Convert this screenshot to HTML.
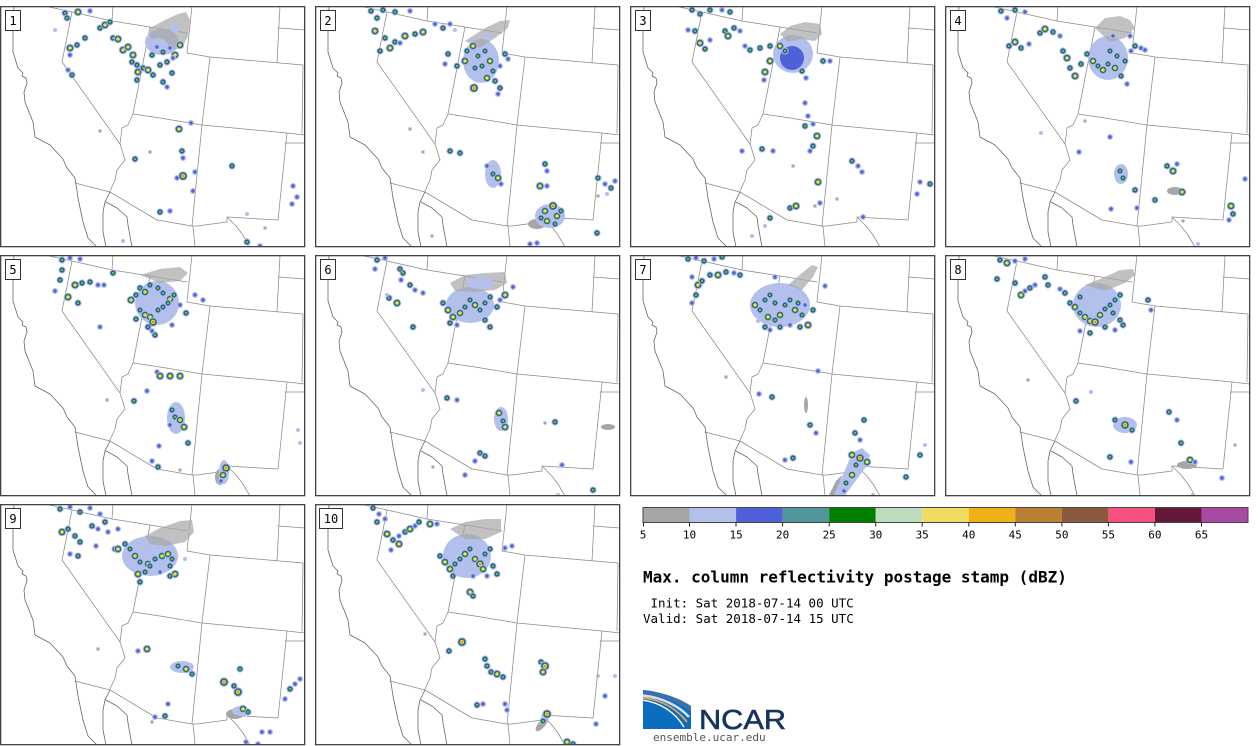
<!DOCTYPE html>
<html>
<head>
<meta charset="utf-8">
<style>
html,body{margin:0;padding:0;background:#fff;}
svg{display:block;}
.gp{fill:#a6a6a6;fill-opacity:0.7;}
</style>
</head>
<body>
<svg xmlns="http://www.w3.org/2000/svg" xmlns:xlink="http://www.w3.org/1999/xlink" width="1260" height="746" viewBox="0 0 1260 746">
<defs>
  <g id="map" fill="none" stroke-linejoin="round" stroke-linecap="round">
    <path stroke="#8a8a8a" stroke-width="0.75" d="M45,0 L72,6 L112,15 L150,21 L187,27 M113,0 L112,15 M72,6 L62,56 L120,138 M150,21 L133,108 L128,119 L122,122 L120,138 L122,144 L125,154 L117,164 L115,174 L110,185 M75,177 L110,186 L157,214 L192,220 M133,108 L160,112 L202,119 L287,127 L305,129 M192,0 L187,47 L210,51 L303,59 M210,51 L202,119 L192,220 M303,59 L302,127 M287,127 L278,214 M285,137 L305,137 M192,220 L197,220 L227,216 L227,211 L278,214 M228,212 L236,220 L243,229 L250,241 M193,220 L195,241 M280,0 L277,57 M278,22 L305,24"/>
    <path stroke="#666" stroke-width="0.8" d="M14,0 L13,24 L13,46 L18,62 L23,67 L22,70 L26,72 L27,77 L24,86 L25,96 L33,116 L35,131 L50,139 L63,153 L67,162 L75,172 L78,192 L83,216 L88,232 L97,241 M110,186 L107,192 L105,196 L103,206 L103,226 L106,241 M106,196 L117,202 L127,211 L128,219 L132,241"/>
  </g>
  <g id="a"><circle r="2" fill="#b4c0ec"/></g>
  <g id="b"><circle r="3" fill="#b4c0ec"/><circle r="1.7" fill="#5060d8"/></g>
  <g id="c"><circle r="3.6" fill="#b4c0ec"/><circle r="2.7" fill="#5060d8"/><circle r="1.8" fill="#008000"/><circle r="0.9" fill="#c0dcc0"/></g>
  <g id="d"><circle r="4.3" fill="#b4c0ec"/><circle r="3.4" fill="#5060d8"/><circle r="2.6" fill="#008000"/><circle r="1.8" fill="#f0dc60"/></g>
  <g id="e"><circle r="4.8" fill="#b4c0ec"/><circle r="3.9" fill="#5060d8"/><circle r="3.0" fill="#008000"/><circle r="2.2" fill="#f0dc60"/><circle r="1.4" fill="#f0b018"/><circle r="0.8" fill="#f05078"/></g>
  <g id="g"><rect x="-1.5" y="-1.5" width="3" height="3" fill="#a6a6a6"/></g>
</defs>

<rect width="1260" height="746" fill="#fff"/>

<!-- Panel 1 -->
<svg x="0" y="6" width="305" height="241">
  <use href="#map"/>
  <ellipse cx="162" cy="36" rx="17" ry="13" fill="#b4c0ec"/>
  <path class="gp" d="M150,22 L165,14 L178,8 L186,6 L190,14 L188,30 L182,42 L170,44 L160,38 L150,32 Z"/>
  <ellipse cx="158" cy="40" rx="10" ry="8" fill="#b4c0ec"/>
  <ellipse cx="175" cy="22" rx="5" ry="4" fill="#b4c0ec"/>
  <use href="#c" x="65" y="7"/><use href="#d" x="78" y="6"/><use href="#c" x="67" y="12"/><use href="#b" x="90" y="5"/>
  <use href="#a" x="55" y="24"/><use href="#c" x="100" y="22"/><use href="#d" x="105" y="19"/><use href="#c" x="110" y="16"/>
  <use href="#d" x="70" y="42"/><use href="#c" x="77" y="39"/><use href="#c" x="85" y="32"/><use href="#b" x="70" y="49"/>
  <use href="#c" x="72" y="69"/><use href="#b" x="68" y="64"/>
  <use href="#c" x="113" y="32"/><use href="#d" x="118" y="33"/><use href="#d" x="123" y="44"/><use href="#d" x="128" y="41"/>
  <use href="#d" x="133" y="49"/><use href="#c" x="132" y="56"/><use href="#c" x="137" y="59"/><use href="#d" x="138" y="66"/>
  <use href="#c" x="137" y="74"/><use href="#c" x="143" y="62"/><use href="#d" x="148" y="64"/><use href="#c" x="153" y="69"/>
  <use href="#b" x="157" y="41"/><use href="#c" x="163" y="46"/><use href="#b" x="170" y="42"/><use href="#d" x="175" y="49"/>
  <use href="#c" x="167" y="56"/><use href="#c" x="160" y="59"/><use href="#c" x="172" y="67"/><use href="#c" x="163" y="76"/>
  <use href="#b" x="167" y="81"/><use href="#c" x="152" y="49"/><use href="#d" x="180" y="39"/><use href="#b" x="173" y="52"/>
  <use href="#d" x="179" y="123"/><use href="#b" x="191" y="117"/><use href="#c" x="182" y="145"/><use href="#b" x="183" y="152"/>
  <use href="#b" x="177" y="172"/><use href="#e" x="183" y="170"/><use href="#b" x="195" y="166"/><use href="#c" x="135" y="153"/>
  <use href="#c" x="232" y="160"/><use href="#b" x="293" y="180"/><use href="#b" x="297" y="191"/><use href="#b" x="292" y="198"/>
  <use href="#c" x="160" y="206"/><use href="#b" x="170" y="205"/><use href="#c" x="247" y="236"/><use href="#b" x="260" y="240"/>
  <use href="#a" x="123" y="235"/><use href="#b" x="193" y="185"/><use href="#a" x="247" y="208"/><use href="#g" x="100" y="125"/>
  <use href="#g" x="150" y="146"/><use href="#g" x="265" y="222"/>
  <rect x="5.5" y="4.5" width="15" height="20" fill="#fff" stroke="#333" stroke-width="1"/>
  <text x="13" y="19" font-family="DejaVu Sans Mono, monospace" font-size="12" text-anchor="middle" fill="#000">1</text>
</svg>

<!-- Panel 2 -->
<svg x="315" y="6" width="305" height="241">
  <use href="#map"/>
  <ellipse cx="166" cy="55" rx="18" ry="22" fill="#b4c0ec"/>
  <path class="gp" d="M150,35 L170,22 L185,15 L195,14 L193,22 L180,32 L165,42 Z"/>
  <ellipse cx="172" cy="30" rx="5" ry="3" fill="#b4c0ec"/>
  <use href="#c" x="56" y="5"/><use href="#c" x="62" y="12"/><use href="#c" x="68" y="4"/><use href="#c" x="80" y="6"/><use href="#b" x="95" y="5"/>
  <use href="#d" x="60" y="25"/><use href="#c" x="70" y="32"/><use href="#c" x="80" y="36"/><use href="#d" x="90" y="30"/>
  <use href="#c" x="100" y="28"/><use href="#d" x="108" y="26"/><use href="#c" x="65" y="45"/><use href="#d" x="75" y="42"/>
  <use href="#b" x="85" y="37"/><use href="#b" x="120" y="18"/><use href="#c" x="128" y="22"/><use href="#b" x="135" y="18"/><use href="#a" x="140" y="24"/>
  <use href="#c" x="152" y="45"/><use href="#d" x="158" y="40"/><use href="#c" x="163" y="50"/><use href="#c" x="170" y="45"/>
  <use href="#d" x="175" y="55"/><use href="#c" x="167" y="60"/><use href="#c" x="178" y="65"/><use href="#c" x="160" y="62"/>
  <use href="#d" x="150" y="55"/><use href="#c" x="142" y="60"/><use href="#c" x="133" y="48"/><use href="#b" x="130" y="58"/>
  <use href="#d" x="172" y="72"/><use href="#c" x="180" y="75"/><use href="#b" x="185" y="60"/><use href="#c" x="190" y="48"/>
  <use href="#b" x="193" y="53"/><use href="#e" x="159" y="82"/><use href="#c" x="185" y="82"/><use href="#b" x="183" y="88"/>
  <use href="#c" x="135" y="145"/><use href="#c" x="145" y="147"/>
  <ellipse cx="178" cy="168" rx="8" ry="14" fill="#b4c0ec"/>
  <use href="#b" x="172" y="160"/><use href="#c" x="178" y="168"/><use href="#d" x="183" y="172"/><use href="#b" x="186" y="178"/>
  <use href="#c" x="230" y="158"/><use href="#b" x="232" y="165"/><use href="#d" x="225" y="180"/><use href="#b" x="232" y="180"/>
  <ellipse cx="222" cy="218" rx="9" ry="5" fill="#a6a6a6"/>
  <ellipse cx="235" cy="210" rx="15" ry="12" fill="#b4c0ec"/>
  <use href="#d" x="230" y="205"/><use href="#e" x="238" y="200"/><use href="#d" x="242" y="210"/><use href="#d" x="232" y="215"/>
  <use href="#c" x="246" y="205"/><use href="#c" x="226" y="212"/><use href="#c" x="240" y="218"/>
  <use href="#b" x="290" y="178"/><use href="#c" x="296" y="182"/><use href="#b" x="300" y="175"/><use href="#a" x="292" y="188"/><use href="#c" x="283" y="172"/>
  <use href="#b" x="215" y="238"/><use href="#b" x="222" y="237"/><use href="#g" x="117" y="230"/><use href="#c" x="282" y="227"/>
  <use href="#g" x="95" y="123"/><use href="#g" x="108" y="146"/><use href="#g" x="283" y="190"/>
  <rect x="5.5" y="4.5" width="15" height="20" fill="#fff" stroke="#333" stroke-width="1"/>
  <text x="13" y="19" font-family="DejaVu Sans Mono, monospace" font-size="12" text-anchor="middle" fill="#000">2</text>
</svg>

<!-- Panel 3 -->
<svg x="630" y="6" width="305" height="241">
  <use href="#map"/>
  <ellipse cx="163" cy="48" rx="20" ry="19" fill="#b4c0ec"/>
  <path class="gp" d="M150,28 L160,20 L175,16 L190,18 L192,28 L185,35 L170,33 L158,36 Z"/>
  <ellipse cx="162" cy="52" rx="12" ry="12" fill="#5060d8"/>
  <use href="#c" x="62" y="4"/><use href="#c" x="70" y="8"/><use href="#c" x="80" y="4"/><use href="#b" x="92" y="4"/><use href="#c" x="100" y="6"/>
  <use href="#b" x="58" y="24"/><use href="#c" x="65" y="25"/><use href="#d" x="70" y="37"/><use href="#c" x="75" y="43"/><use href="#b" x="80" y="34"/>
  <use href="#c" x="95" y="25"/><use href="#d" x="98" y="30"/><use href="#c" x="104" y="22"/><use href="#b" x="110" y="25"/>
  <use href="#b" x="115" y="40"/><use href="#c" x="120" y="44"/><use href="#c" x="130" y="42"/><use href="#c" x="140" y="40"/>
  <use href="#d" x="140" y="55"/><use href="#d" x="135" y="66"/><use href="#b" x="134" y="74"/><use href="#d" x="150" y="40"/>
  <use href="#c" x="155" y="45"/><use href="#c" x="172" y="65"/><use href="#b" x="176" y="72"/><use href="#c" x="193" y="55"/><use href="#b" x="200" y="55"/>
  <use href="#b" x="175" y="97"/><use href="#b" x="178" y="110"/><use href="#c" x="175" y="120"/><use href="#b" x="183" y="118"/>
  <use href="#d" x="187" y="130"/><use href="#c" x="183" y="140"/><use href="#b" x="180" y="145"/><use href="#b" x="112" y="145"/>
  <use href="#c" x="132" y="143"/><use href="#b" x="143" y="145"/><use href="#c" x="222" y="155"/><use href="#b" x="228" y="160"/>
  <use href="#b" x="232" y="166"/><use href="#d" x="188" y="176"/><use href="#c" x="160" y="202"/><use href="#d" x="166" y="200"/>
  <use href="#c" x="140" y="212"/><use href="#a" x="135" y="220"/><use href="#a" x="122" y="230"/><use href="#b" x="190" y="197"/>
  <use href="#b" x="233" y="211"/><use href="#b" x="290" y="176"/><use href="#c" x="300" y="178"/><use href="#b" x="287" y="188"/>
  <use href="#g" x="163" y="160"/><use href="#g" x="207" y="193"/><use href="#g" x="185" y="200"/>
  <rect x="5.5" y="4.5" width="15" height="20" fill="#fff" stroke="#333" stroke-width="1"/>
  <text x="13" y="19" font-family="DejaVu Sans Mono, monospace" font-size="12" text-anchor="middle" fill="#000">3</text>
</svg>

<!-- Panel 4 -->
<svg x="945" y="6" width="305" height="241">
  <use href="#map"/>
  <ellipse cx="163" cy="52" rx="20" ry="22" fill="#b4c0ec"/>
  <path class="gp" d="M150,22 L160,12 L175,10 L185,14 L190,22 L180,32 L165,36 Z"/>
  <use href="#c" x="56" y="5"/><use href="#b" x="62" y="12"/><use href="#c" x="70" y="4"/><use href="#b" x="80" y="6"/>
  <use href="#c" x="64" y="40"/><use href="#d" x="70" y="36"/><use href="#c" x="76" y="42"/><use href="#b" x="84" y="38"/>
  <use href="#c" x="95" y="27"/><use href="#d" x="100" y="23"/><use href="#c" x="108" y="26"/><use href="#b" x="115" y="30"/>
  <use href="#c" x="118" y="45"/><use href="#d" x="122" y="52"/><use href="#c" x="125" y="62"/><use href="#d" x="130" y="70"/>
  <use href="#c" x="136" y="58"/><use href="#c" x="142" y="48"/><use href="#d" x="148" y="55"/><use href="#c" x="153" y="60"/>
  <use href="#d" x="158" y="64"/><use href="#c" x="163" y="58"/><use href="#d" x="170" y="62"/><use href="#c" x="176" y="70"/>
  <use href="#c" x="172" y="50"/><use href="#c" x="165" y="45"/><use href="#c" x="180" y="55"/><use href="#b" x="186" y="45"/>
  <use href="#c" x="190" y="40"/><use href="#b" x="196" y="42"/><use href="#b" x="200" y="44"/><use href="#b" x="185" y="30"/>
  <use href="#b" x="168" y="30"/><use href="#b" x="182" y="78"/>
  <ellipse cx="176" cy="168" rx="7" ry="10" fill="#b4c0ec"/>
  <use href="#c" x="175" y="165"/><use href="#c" x="178" y="172"/>
  <use href="#c" x="222" y="160"/><use href="#d" x="228" y="165"/><use href="#b" x="232" y="158"/>
  <ellipse cx="230" cy="185" rx="8" ry="4" fill="#a6a6a6"/>
  <use href="#d" x="237" y="186"/><use href="#c" x="190" y="184"/><use href="#b" x="165" y="131"/><use href="#b" x="134" y="146"/>
  <use href="#a" x="96" y="127"/><use href="#d" x="286" y="200"/><use href="#c" x="288" y="208"/><use href="#b" x="284" y="214"/>
  <use href="#b" x="300" y="173"/><use href="#b" x="166" y="203"/><use href="#b" x="192" y="202"/><use href="#c" x="210" y="194"/>
  <use href="#a" x="253" y="238"/><use href="#g" x="140" y="115"/><use href="#g" x="238" y="215"/>
  <rect x="5.5" y="4.5" width="15" height="20" fill="#fff" stroke="#333" stroke-width="1"/>
  <text x="13" y="19" font-family="DejaVu Sans Mono, monospace" font-size="12" text-anchor="middle" fill="#000">4</text>
</svg>

<!-- Panel 5 -->
<svg x="0" y="255" width="305" height="241">
  <use href="#map"/>
  <ellipse cx="157" cy="48" rx="22" ry="22" fill="#b4c0ec"/>
  <path class="gp" d="M140,20 L160,14 L180,12 L188,18 L180,26 L160,28 Z"/>
  <use href="#c" x="62" y="5"/><use href="#b" x="70" y="3"/><use href="#b" x="80" y="4"/><use href="#c" x="62" y="15"/>
  <use href="#c" x="60" y="25"/><use href="#b" x="55" y="36"/><use href="#d" x="75" y="30"/><use href="#c" x="82" y="28"/>
  <use href="#c" x="90" y="27"/><use href="#b" x="98" y="30"/><use href="#b" x="104" y="30"/><use href="#d" x="68" y="42"/>
  <use href="#c" x="78" y="48"/><use href="#c" x="113" y="18"/><use href="#b" x="100" y="72"/>
  <use href="#d" x="131" y="45"/><use href="#c" x="136" y="40"/><use href="#c" x="140" y="33"/><use href="#d" x="145" y="37"/>
  <use href="#c" x="150" y="30"/><use href="#c" x="158" y="33"/><use href="#c" x="163" y="38"/><use href="#d" x="170" y="44"/>
  <use href="#c" x="174" y="40"/><use href="#c" x="140" y="55"/><use href="#d" x="145" y="60"/><use href="#d" x="150" y="62"/>
  <use href="#e" x="153" y="67"/><use href="#c" x="158" y="55"/><use href="#c" x="163" y="52"/><use href="#c" x="168" y="48"/>
  <use href="#c" x="136" y="64"/><use href="#c" x="148" y="72"/><use href="#c" x="155" y="80"/><use href="#b" x="152" y="76"/>
  <use href="#b" x="172" y="70"/><use href="#c" x="186" y="58"/><use href="#b" x="180" y="50"/><use href="#b" x="195" y="40"/><use href="#b" x="203" y="45"/>
  <use href="#b" x="157" y="117"/><use href="#d" x="160" y="121"/><use href="#d" x="170" y="121"/><use href="#d" x="180" y="121"/>
  <use href="#c" x="134" y="146"/><use href="#b" x="147" y="136"/>
  <ellipse cx="176" cy="163" rx="9" ry="16" fill="#b4c0ec"/>
  <use href="#c" x="172" y="155"/><use href="#c" x="175" y="162"/><use href="#d" x="180" y="165"/><use href="#d" x="184" y="172"/><use href="#b" x="170" y="170"/>
  <use href="#c" x="188" y="188"/><use href="#b" x="159" y="191"/><use href="#b" x="152" y="206"/><use href="#c" x="158" y="212"/>
  <ellipse cx="220" cy="222" rx="5" ry="8" fill="#a6a6a6"/>
  <ellipse cx="224" cy="217" rx="5" ry="12" fill="#b4c0ec"/>
  <use href="#e" x="226" y="213"/><use href="#d" x="223" y="220"/><use href="#b" x="221" y="226"/>
  <use href="#a" x="300" y="188"/><use href="#a" x="298" y="175"/><use href="#g" x="107" y="145"/><use href="#g" x="180" y="215"/>
  <rect x="5.5" y="4.5" width="15" height="20" fill="#fff" stroke="#333" stroke-width="1"/>
  <text x="13" y="19" font-family="DejaVu Sans Mono, monospace" font-size="12" text-anchor="middle" fill="#000">5</text>
</svg>

<!-- Panel 6 -->
<svg x="315" y="255" width="305" height="241">
  <use href="#map"/>
  <ellipse cx="155" cy="50" rx="24" ry="18" fill="#b4c0ec"/>
  <path class="gp" d="M135,28 L150,20 L170,18 L190,17 L192,28 L180,35 L160,37 L140,36 Z"/>
  <ellipse cx="165" cy="28" rx="14" ry="6" fill="#b4c0ec"/>
  <use href="#c" x="62" y="5"/><use href="#b" x="70" y="3"/><use href="#b" x="60" y="14"/><use href="#c" x="88" y="18"/>
  <use href="#b" x="86" y="25"/><use href="#c" x="95" y="30"/><use href="#b" x="100" y="35"/><use href="#b" x="108" y="38"/>
  <use href="#c" x="85" y="14"/><use href="#c" x="74" y="43"/><use href="#d" x="82" y="48"/><use href="#a" x="72" y="40"/>
  <use href="#c" x="128" y="48"/><use href="#d" x="133" y="55"/><use href="#d" x="138" y="62"/><use href="#d" x="145" y="58"/>
  <use href="#c" x="150" y="52"/><use href="#c" x="155" y="45"/><use href="#d" x="160" y="50"/><use href="#c" x="165" y="55"/>
  <use href="#c" x="170" y="48"/><use href="#c" x="175" y="42"/><use href="#c" x="182" y="52"/><use href="#b" x="185" y="45"/>
  <use href="#d" x="190" y="40"/><use href="#b" x="198" y="32"/><use href="#c" x="135" y="68"/><use href="#b" x="142" y="70"/>
  <use href="#c" x="170" y="65"/><use href="#c" x="175" y="72"/><use href="#c" x="98" y="72"/>
  <ellipse cx="186" cy="164" rx="7" ry="12" fill="#b4c0ec"/>
  <use href="#d" x="184" y="158"/><use href="#c" x="188" y="166"/><use href="#d" x="190" y="172"/>
  <use href="#c" x="132" y="143"/><use href="#b" x="142" y="145"/><use href="#c" x="165" y="198"/><use href="#b" x="160" y="206"/>
  <use href="#c" x="170" y="201"/><use href="#c" x="240" y="167"/><use href="#b" x="247" y="210"/>
  <ellipse cx="293" cy="172" rx="7" ry="3" fill="#a6a6a6"/>
  <use href="#b" x="150" y="220"/><use href="#c" x="278" y="235"/><use href="#a" x="243" y="240"/><use href="#a" x="108" y="135"/>
  <use href="#g" x="230" y="168"/><use href="#g" x="118" y="212"/>
  <rect x="5.5" y="4.5" width="15" height="20" fill="#fff" stroke="#333" stroke-width="1"/>
  <text x="13" y="19" font-family="DejaVu Sans Mono, monospace" font-size="12" text-anchor="middle" fill="#000">6</text>
</svg>

<!-- Panel 7 -->
<svg x="630" y="255" width="305" height="241">
  <use href="#map"/>
  <ellipse cx="150" cy="50" rx="30" ry="22" fill="#b4c0ec"/>
  <path class="gp" d="M158,30 L172,18 L182,10 L188,12 L183,22 L172,35 Z"/>
  <use href="#c" x="58" y="4"/><use href="#b" x="66" y="3"/><use href="#c" x="74" y="6"/><use href="#b" x="84" y="4"/><use href="#c" x="92" y="2"/>
  <use href="#b" x="62" y="22"/><use href="#d" x="68" y="30"/><use href="#c" x="72" y="26"/><use href="#c" x="66" y="40"/><use href="#b" x="62" y="48"/>
  <use href="#c" x="80" y="20"/><use href="#d" x="88" y="20"/><use href="#c" x="96" y="17"/><use href="#b" x="104" y="18"/>
  <use href="#c" x="110" y="20"/><use href="#b" x="145" y="22"/><use href="#b" x="195" y="31"/>
  <use href="#d" x="125" y="50"/><use href="#c" x="130" y="55"/><use href="#c" x="135" y="45"/><use href="#c" x="140" y="40"/>
  <use href="#c" x="145" y="48"/><use href="#d" x="138" y="62"/><use href="#c" x="145" y="65"/><use href="#d" x="150" y="60"/>
  <use href="#c" x="155" y="50"/><use href="#c" x="160" y="45"/><use href="#d" x="165" y="55"/><use href="#c" x="168" y="48"/>
  <use href="#c" x="172" y="60"/><use href="#b" x="175" y="50"/><use href="#c" x="183" y="55"/><use href="#d" x="178" y="70"/>
  <use href="#c" x="170" y="72"/><use href="#b" x="160" y="70"/><use href="#c" x="150" y="72"/><use href="#c" x="135" y="72"/>
  <use href="#b" x="140" y="75"/><use href="#a" x="128" y="66"/>
  <use href="#c" x="142" y="142"/><use href="#b" x="129" y="139"/>
  <ellipse cx="176" cy="150" rx="2" ry="8" fill="#a6a6a6"/>
  <use href="#c" x="180" y="170"/><use href="#b" x="186" y="178"/><use href="#b" x="155" y="205"/><use href="#c" x="163" y="203"/>
  <path d="M198,242 L206,226 L212,220 L207,236 L203,242 Z" fill="#a6a6a6"/>
  <path d="M203,242 L212,222 L222,198 L232,193 L240,200 L236,212 L224,228 L214,242 Z" fill="#b4c0ec"/>
  <use href="#d" x="222" y="200"/><use href="#e" x="230" y="203"/><use href="#d" x="237" y="207"/><use href="#c" x="226" y="210"/>
  <use href="#d" x="222" y="220"/><use href="#c" x="216" y="228"/><use href="#b" x="214" y="236"/><use href="#c" x="225" y="178"/>
  <use href="#c" x="234" y="165"/><use href="#b" x="230" y="185"/><use href="#c" x="276" y="222"/><use href="#c" x="290" y="200"/>
  <use href="#a" x="295" y="190"/><use href="#b" x="188" y="116"/><use href="#g" x="96" y="122"/><use href="#g" x="243" y="240"/>
  <rect x="5.5" y="4.5" width="15" height="20" fill="#fff" stroke="#333" stroke-width="1"/>
  <text x="13" y="19" font-family="DejaVu Sans Mono, monospace" font-size="12" text-anchor="middle" fill="#000">7</text>
</svg>

<!-- Panel 8 -->
<svg x="945" y="255" width="305" height="241">
  <use href="#map"/>
  <ellipse cx="152" cy="50" rx="24" ry="22" fill="#b4c0ec"/>
  <path class="gp" d="M140,30 L160,22 L175,15 L188,14 L190,20 L180,28 L160,36 Z"/>
  <use href="#c" x="55" y="5"/><use href="#d" x="62" y="8"/><use href="#b" x="70" y="6"/><use href="#b" x="80" y="4"/>
  <use href="#c" x="52" y="24"/><use href="#c" x="70" y="28"/><use href="#d" x="76" y="40"/><use href="#b" x="80" y="36"/>
  <use href="#c" x="85" y="33"/><use href="#b" x="90" y="30"/><use href="#c" x="100" y="22"/><use href="#c" x="103" y="30"/>
  <use href="#b" x="115" y="34"/><use href="#c" x="120" y="38"/>
  <use href="#c" x="125" y="48"/><use href="#d" x="130" y="52"/><use href="#c" x="135" y="58"/><use href="#d" x="140" y="62"/>
  <use href="#d" x="145" y="66"/><use href="#e" x="150" y="67"/><use href="#d" x="155" y="60"/><use href="#c" x="160" y="54"/>
  <use href="#c" x="165" y="50"/><use href="#c" x="170" y="45"/><use href="#c" x="175" y="40"/><use href="#c" x="168" y="58"/>
  <use href="#c" x="175" y="65"/><use href="#c" x="160" y="72"/><use href="#c" x="145" y="78"/><use href="#b" x="135" y="76"/>
  <use href="#b" x="170" y="75"/><use href="#c" x="178" y="70"/><use href="#c" x="203" y="45"/><use href="#b" x="206" y="55"/><use href="#c" x="135" y="42"/>
  <ellipse cx="180" cy="170" rx="12" ry="8" fill="#b4c0ec"/>
  <use href="#c" x="170" y="165"/><use href="#e" x="180" y="170"/><use href="#c" x="187" y="175"/>
  <use href="#c" x="224" y="157"/><use href="#b" x="232" y="165"/><use href="#c" x="236" y="188"/>
  <ellipse cx="242" cy="210" rx="10" ry="4" fill="#a6a6a6"/>
  <use href="#d" x="245" y="205"/><use href="#b" x="250" y="207"/>
  <use href="#c" x="165" y="202"/><use href="#b" x="186" y="207"/><use href="#c" x="131" y="146"/><use href="#a" x="146" y="137"/>
  <use href="#a" x="248" y="240"/><use href="#b" x="277" y="223"/><use href="#g" x="290" y="190"/><use href="#g" x="83" y="125"/>
  <rect x="5.5" y="4.5" width="15" height="20" fill="#fff" stroke="#333" stroke-width="1"/>
  <text x="13" y="19" font-family="DejaVu Sans Mono, monospace" font-size="12" text-anchor="middle" fill="#000">8</text>
</svg>

<!-- Panel 9 -->
<svg x="0" y="504" width="305" height="241">
  <use href="#map"/>
  <ellipse cx="150" cy="52" rx="28" ry="20" fill="#b4c0ec"/>
  <path class="gp" d="M145,32 L160,24 L180,17 L192,16 L194,28 L185,38 L165,42 L150,40 Z"/>
  <use href="#c" x="60" y="5"/><use href="#b" x="70" y="3"/><use href="#c" x="80" y="8"/><use href="#b" x="90" y="4"/><use href="#b" x="100" y="10"/>
  <use href="#d" x="62" y="28"/><use href="#c" x="68" y="25"/><use href="#c" x="75" y="32"/><use href="#c" x="80" y="38"/>
  <use href="#c" x="78" y="52"/><use href="#b" x="70" y="50"/><use href="#c" x="92" y="22"/><use href="#b" x="98" y="25"/>
  <use href="#c" x="105" y="18"/><use href="#b" x="108" y="28"/><use href="#b" x="118" y="25"/><use href="#c" x="115" y="45"/><use href="#b" x="96" y="42"/>
  <use href="#d" x="118" y="45"/><use href="#c" x="125" y="40"/><use href="#c" x="130" y="45"/><use href="#d" x="135" y="52"/>
  <use href="#c" x="140" y="58"/><use href="#d" x="148" y="60"/><use href="#c" x="155" y="55"/><use href="#d" x="162" y="52"/>
  <use href="#d" x="168" y="50"/><use href="#c" x="172" y="55"/><use href="#c" x="170" y="62"/><use href="#d" x="175" y="70"/>
  <use href="#c" x="170" y="72"/><use href="#b" x="160" y="68"/><use href="#c" x="145" y="68"/><use href="#d" x="138" y="70"/>
  <use href="#c" x="140" y="78"/><use href="#c" x="150" y="62"/><use href="#a" x="185" y="55"/>
  <use href="#d" x="147" y="145"/><use href="#b" x="138" y="147"/>
  <ellipse cx="182" cy="163" rx="12" ry="6" fill="#b4c0ec"/>
  <use href="#c" x="178" y="162"/><use href="#d" x="186" y="165"/><use href="#c" x="192" y="170"/>
  <use href="#e" x="224" y="178"/><use href="#c" x="240" y="165"/><use href="#e" x="238" y="188"/><use href="#c" x="234" y="182"/>
  <ellipse cx="235" cy="210" rx="9" ry="5" fill="#a6a6a6"/>
  <ellipse cx="241" cy="207" rx="9" ry="5" fill="#b4c0ec"/>
  <use href="#d" x="243" y="205"/><use href="#c" x="248" y="208"/>
  <use href="#b" x="155" y="213"/><use href="#c" x="165" y="212"/><use href="#b" x="168" y="200"/>
  <use href="#b" x="262" y="228"/><use href="#b" x="270" y="228"/><use href="#b" x="246" y="238"/><use href="#b" x="258" y="240"/>
  <use href="#c" x="290" y="185"/><use href="#b" x="295" y="180"/><use href="#b" x="285" y="195"/><use href="#b" x="300" y="175"/>
  <use href="#g" x="98" y="145"/><use href="#g" x="152" y="218"/>
  <rect x="5.5" y="4.5" width="15" height="20" fill="#fff" stroke="#333" stroke-width="1"/>
  <text x="13" y="19" font-family="DejaVu Sans Mono, monospace" font-size="12" text-anchor="middle" fill="#000">9</text>
</svg>

<!-- Panel 10 -->
<svg x="315" y="504" width="305" height="241">
  <use href="#map"/>
  <ellipse cx="152" cy="52" rx="24" ry="22" fill="#b4c0ec"/>
  <path class="gp" d="M135,25 L150,18 L170,15 L186,15 L186,28 L170,35 L150,35 Z"/>
  <use href="#c" x="58" y="4"/><use href="#b" x="64" y="10"/><use href="#c" x="62" y="18"/><use href="#b" x="70" y="15"/>
  <use href="#d" x="72" y="30"/><use href="#c" x="78" y="36"/><use href="#b" x="84" y="32"/><use href="#c" x="90" y="28"/>
  <use href="#d" x="95" y="25"/><use href="#b" x="100" y="22"/><use href="#c" x="104" y="18"/><use href="#d" x="84" y="40"/>
  <use href="#b" x="76" y="46"/><use href="#d" x="115" y="20"/><use href="#b" x="122" y="20"/>
  <use href="#c" x="125" y="52"/><use href="#d" x="130" y="58"/><use href="#d" x="135" y="65"/><use href="#c" x="138" y="72"/>
  <use href="#c" x="140" y="60"/><use href="#c" x="145" y="55"/><use href="#d" x="150" y="50"/><use href="#c" x="155" y="45"/>
  <use href="#d" x="160" y="55"/><use href="#e" x="165" y="60"/><use href="#c" x="170" y="50"/><use href="#c" x="175" y="45"/>
  <use href="#d" x="168" y="65"/><use href="#c" x="178" y="62"/><use href="#c" x="182" y="70"/><use href="#b" x="172" y="72"/>
  <use href="#b" x="158" y="72"/><use href="#d" x="155" y="88"/><use href="#c" x="158" y="92"/><use href="#b" x="190" y="44"/><use href="#b" x="197" y="42"/>
  <use href="#e" x="147" y="138"/><use href="#c" x="134" y="147"/>
  <use href="#c" x="170" y="155"/><use href="#c" x="172" y="162"/><use href="#c" x="176" y="168"/><use href="#d" x="182" y="170"/><use href="#c" x="188" y="173"/>
  <use href="#c" x="226" y="158"/><use href="#e" x="230" y="162"/><use href="#d" x="228" y="168"/>
  <ellipse cx="227" cy="220" rx="9" ry="3.5" fill="#a6a6a6" transform="rotate(-50 227 220)"/>
  <use href="#e" x="232" y="210"/><use href="#c" x="228" y="217"/>
  <use href="#c" x="162" y="201"/><use href="#b" x="168" y="200"/><use href="#b" x="190" y="200"/><use href="#b" x="192" y="206"/>
  <use href="#d" x="252" y="238"/><use href="#c" x="258" y="240"/><use href="#b" x="290" y="192"/><use href="#b" x="281" y="220"/><use href="#a" x="300" y="172"/>
  <use href="#g" x="283" y="172"/><use href="#g" x="110" y="130"/>
  <rect x="4.5" y="4.5" width="23" height="20" fill="#fff" stroke="#333" stroke-width="1"/>
  <text x="16" y="19" font-family="DejaVu Sans Mono, monospace" font-size="12" text-anchor="middle" fill="#000">10</text>
</svg>

<!-- Panel frames -->
<g fill="none" stroke="#444" stroke-width="1.3">
  <rect x="0.65" y="6.65" width="304" height="240"/>
  <rect x="315.65" y="6.65" width="304" height="240"/>
  <rect x="630.65" y="6.65" width="304" height="240"/>
  <rect x="945.65" y="6.65" width="304" height="240"/>
  <rect x="0.65" y="255.65" width="304" height="240"/>
  <rect x="315.65" y="255.65" width="304" height="240"/>
  <rect x="630.65" y="255.65" width="304" height="240"/>
  <rect x="945.65" y="255.65" width="304" height="240"/>
  <rect x="0.65" y="504.65" width="304" height="240"/>
  <rect x="315.65" y="504.65" width="304" height="240"/>
</g>

<!-- Colorbar -->
<g>
  <rect x="643" y="507.5" width="46.54" height="15" fill="#a6a6a6"/>
  <rect x="689.54" y="507.5" width="46.54" height="15" fill="#b4c0ec"/>
  <rect x="736.08" y="507.5" width="46.54" height="15" fill="#5060d8"/>
  <rect x="782.62" y="507.5" width="46.54" height="15" fill="#50969a"/>
  <rect x="829.16" y="507.5" width="46.54" height="15" fill="#008000"/>
  <rect x="875.7" y="507.5" width="46.54" height="15" fill="#c0dcc0"/>
  <rect x="922.24" y="507.5" width="46.54" height="15" fill="#f0dc60"/>
  <rect x="968.78" y="507.5" width="46.54" height="15" fill="#f0b018"/>
  <rect x="1015.32" y="507.5" width="46.54" height="15" fill="#b88030"/>
  <rect x="1061.86" y="507.5" width="46.54" height="15" fill="#8a5a3e"/>
  <rect x="1108.4" y="507.5" width="46.54" height="15" fill="#f5507e"/>
  <rect x="1154.94" y="507.5" width="46.54" height="15" fill="#64183a"/>
  <rect x="1201.48" y="507.5" width="46.52" height="15" fill="#a84aa4"/>
  <rect x="643" y="507.5" width="605" height="15" fill="none" stroke="#444" stroke-width="1"/>
  <path stroke="#222" stroke-width="1" d="M643.5,522.5 v4 M689.5,522.5 v4 M736,522.5 v4 M782.6,522.5 v4 M829.2,522.5 v4 M875.7,522.5 v4 M922.2,522.5 v4 M968.8,522.5 v4 M1015.3,522.5 v4 M1061.9,522.5 v4 M1108.4,522.5 v4 M1154.9,522.5 v4 M1201.5,522.5 v4"/>
  <g font-family="DejaVu Sans Mono, monospace" font-size="11" fill="#000" text-anchor="middle">
    <text x="643" y="538.5">5</text>
    <text x="689.5" y="538.5">10</text>
    <text x="736.1" y="538.5">15</text>
    <text x="782.6" y="538.5">20</text>
    <text x="829.2" y="538.5">25</text>
    <text x="875.7" y="538.5">30</text>
    <text x="922.2" y="538.5">35</text>
    <text x="968.8" y="538.5">40</text>
    <text x="1015.3" y="538.5">45</text>
    <text x="1061.9" y="538.5">50</text>
    <text x="1108.4" y="538.5">55</text>
    <text x="1154.9" y="538.5">60</text>
    <text x="1201.5" y="538.5">65</text>
  </g>
</g>

<!-- Titles -->
<text x="643" y="582.5" font-family="DejaVu Sans Mono, monospace" font-size="16" font-weight="bold" fill="#000">Max. column reflectivity postage stamp (dBZ)</text>
<text x="650.5" y="607.5" font-family="DejaVu Sans Mono, monospace" font-size="12.5" fill="#000">Init: Sat 2018-07-14 00 UTC</text>
<text x="643" y="623" font-family="DejaVu Sans Mono, monospace" font-size="12.5" fill="#000">Valid: Sat 2018-07-14 15 UTC</text>

<!-- NCAR logo -->
<g>
  <path d="M643,690 C662,692 679,698 691,706 L691,729 L643,729 Z" fill="#0c6dbf"/>
  <path d="M643,690 C662,692 679,698 691,706 L691,712 C679,703 662,696 643,694 Z" fill="#3d6fa8"/>
  <path d="M643,695.5 C662,697.5 679,706 689,717" fill="none" stroke="#cfe2f5" stroke-width="2.5"/>
  <path d="M643,697.8 C662,700 677,709 687,722" fill="none" stroke="#f0a050" stroke-width="1.8"/>
  <path d="M643,700.2 C660,702.5 675,712 684,727" fill="none" stroke="#ffffff" stroke-width="1.4"/>
  <text x="699" y="729" font-family="Liberation Sans, Arial, sans-serif" font-size="28" fill="#17335f" stroke="#17335f" stroke-width="0.6" textLength="87" lengthAdjust="spacingAndGlyphs">NCAR</text>
  <text x="653" y="741" font-family="DejaVu Sans Mono, monospace" font-size="11" fill="#555">ensemble.ucar.edu</text>
</g>
</svg>
</body>
</html>
